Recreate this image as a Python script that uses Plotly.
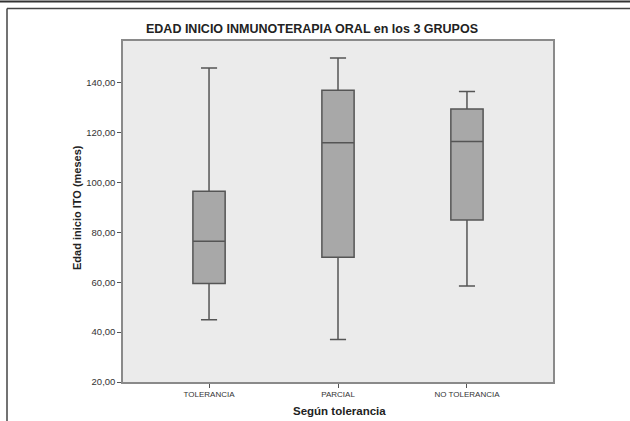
import plotly.graph_objects as go

categories = ["TOLERANCIA", "PARCIAL", "NO TOLERANCIA"]
lower_whisker = [45, 37, 58.5]
q1_values = [59.5, 70, 85]
median_values = [76.5, 116, 116.5]
q3_values = [96.5, 137, 129.5]
upper_whisker = [146, 150, 136.5]
y_ticks = [20, 40, 60, 80, 100, 120, 140]

W, H = 630, 421
ML, MR, MT, MB = 123, 77, 41, 39
PW, PH = W - ML - MR, H - MT - MB

def px(x):
    return (x - ML) / PW

def py(y):
    return (H - MB - y) / PH

fig = go.Figure()
fig.add_trace(go.Box(
    x=categories,
    q1=q1_values,
    median=median_values,
    q3=q3_values,
    lowerfence=lower_whisker,
    upperfence=upper_whisker,
    width=0.25,
    whiskerwidth=0.5,
    boxpoints=False,
    fillcolor="#a8a8a8",
    line=dict(color="#555555", width=1.5),
    hoverinfo="skip",
    showlegend=False,
))

shapes = [
    dict(type="line", xref="paper", yref="paper", x0=px(0), x1=px(W), y0=py(1.5), y1=py(1.5),
         line=dict(color="#333333", width=2)),
    dict(type="line", xref="paper", yref="paper", x0=px(7), x1=px(W), y0=py(8.5), y1=py(8.5),
         line=dict(color="#444444", width=1.5)),
    dict(type="line", xref="paper", yref="paper", x0=px(7), x1=px(7), y0=py(8.5), y1=py(H),
         line=dict(color="#444444", width=1.5)),
]

fig.update_layout(
    width=W, height=H,
    margin=dict(l=ML, r=MR, t=MT, b=MB),
    paper_bgcolor="white",
    plot_bgcolor="#ebebeb",
    separators=",.",
    font=dict(family="Liberation Sans, Arial, sans-serif", color="#333333"),
    title=dict(
        text="<b>EDAD INICIO INMUNOTERAPIA ORAL en los 3 GRUPOS</b>",
        x=312 / W, xref="container", xanchor="center",
        y=1 - 29 / H, yref="container", yanchor="middle",
        font=dict(size=12.5, color="#222222"),
    ),
    xaxis=dict(
        type="category",
        range=[-0.667, 2.667],
        showgrid=False,
        showline=True, linecolor="#8a8a8a", linewidth=1.5, mirror=True,
        ticks="outside", ticklen=4, tickcolor="#555555",
        tickfont=dict(size=8, color="#333333"),
        zeroline=False,
    ),
    yaxis=dict(
        range=[20, 156.8],
        tickvals=y_ticks,
        tickformat=".2f",
        showgrid=False,
        showline=True, linecolor="#8a8a8a", linewidth=1.5, mirror=True,
        ticks="outside", ticklen=4, tickcolor="#555555",
        tickfont=dict(size=9.5, color="#333333"),
        zeroline=False,
    ),
    shapes=shapes,
    annotations=[
        dict(text="<b>Edad inicio ITO (meses)</b>", xref="paper", yref="paper",
             x=px(77), y=py(208), textangle=-90, showarrow=False,
             xanchor="center", yanchor="middle",
             font=dict(size=11, color="#222222")),
        dict(text="<b>Según tolerancia</b>", xref="paper", yref="paper",
             x=px(339), y=py(411), showarrow=False,
             xanchor="center", yanchor="middle",
             font=dict(size=11.5, color="#222222")),
    ],
)

fig.write_html("out.html", config={"displayModeBar": False},
               post_script="document.body.style.margin='0';")
